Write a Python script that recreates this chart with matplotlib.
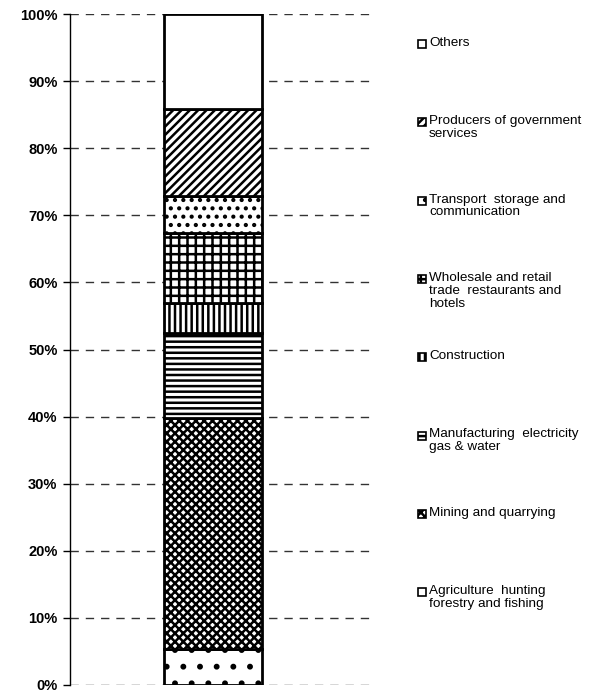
import matplotlib.pyplot as plt
from matplotlib.patches import Rectangle
from matplotlib.ticker import FuncFormatter

plt.rcParams['font.family'] = ['Liberation Sans', 'DejaVu Sans']
plt.rcParams['hatch.linewidth'] = 1.8

# sectors, bottom to top of the stacked bar
sectors = ['Agriculture  hunting\nforestry and fishing',
           'Mining and quarrying',
           'Manufacturing  electricity\ngas & water',
           'Construction',
           'Wholesale and retail\ntrade  restaurants and\nhotels',
           'Transport  storage and\ncommunication',
           'Producers of government\nservices',
           'Others']
shares = [5.4, 34.4, 12.7, 4.5, 10.3, 5.6, 13.0, 14.1]
hatches = ['.', 'xxxx', '---', '|||', '++', '..', '////', '']
yticks = [0, 10, 20, 30, 40, 50, 60, 70, 80, 90, 100]

fig = plt.figure(figsize=(5.94, 6.92), dpi=100)
ax = fig.add_axes([70 / 594, 1 - 685 / 692, 302 / 594, 671 / 692])

bottom = 0
for name, val, h in zip(sectors, shares, hatches):
    ax.bar(0.474, val, width=0.325, bottom=bottom, color='white',
           edgecolor='black', linewidth=2, hatch=h, zorder=3)
    bottom += val

ax.set_xlim(0, 1)
ax.set_ylim(0, 100)
ax.set_yticks(yticks)
ax.yaxis.set_major_formatter(FuncFormatter(lambda v, p: '%d%%' % v))
ax.set_xticks([])
ax.yaxis.grid(True, linestyle=(0, (6, 5)), color='#333333', linewidth=1, zorder=0)
ax.set_axisbelow(True)
for s in ['top', 'right', 'bottom']:
    ax.spines[s].set_visible(False)
ax.spines['left'].set_linewidth(1)
ax.tick_params(axis='y', length=5, width=1, labelsize=10.5, pad=4)
for lab in ax.get_yticklabels():
    lab.set_fontweight('bold')

# legend drawn top to bottom, reversed order of the stack
for i, (name, h) in enumerate(zip(sectors[::-1], hatches[::-1])):
    yc = 44 + 78.3 * i
    fig.patches.append(Rectangle((418 / 594, 1 - (yc + 4) / 692), 8 / 594, 8 / 692,
                                 transform=fig.transFigure, facecolor='white',
                                 edgecolor='black', linewidth=1.2, hatch=h))
    fig.text(429 / 594, 1 - (yc - 7) / 692, name, fontsize=9.7, va='top', ha='left',
             linespacing=1.1)

fig.savefig('out.png', dpi=100)
